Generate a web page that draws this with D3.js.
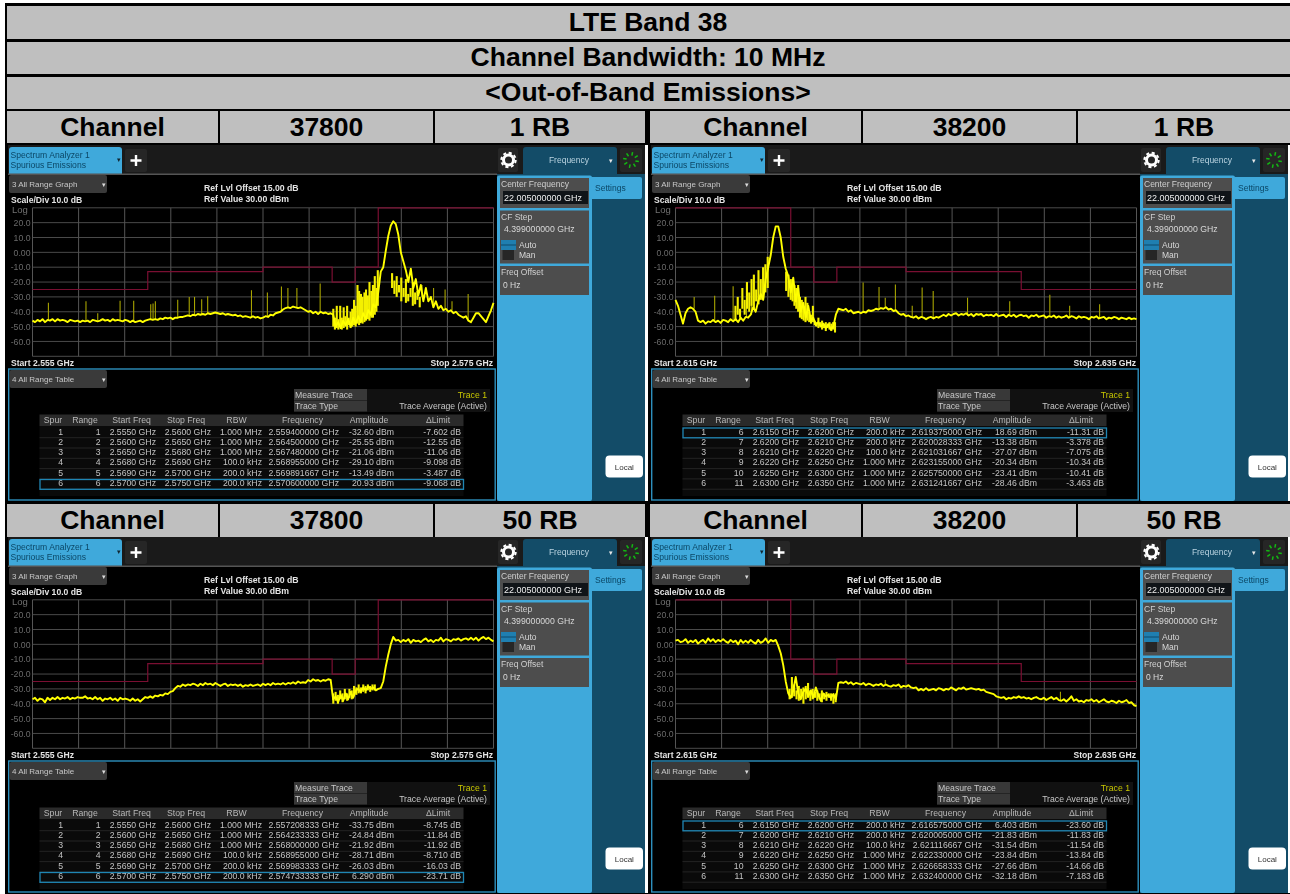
<!DOCTYPE html>
<html><head><meta charset="utf-8">
<script src="https://cdn.jsdelivr.net/npm/d3@7"></script>
<style>
html,body{margin:0;padding:0;background:#fff}
svg{display:block;font-family:"Liberation Sans",Arial,sans-serif}
.soft{filter:blur(.45px)}
</style></head><body><div id="c"></div>
<script>
const titles=["LTE Band 38","Channel Bandwidth: 10 MHz","<Out-of-Band Emissions>"];
const headerCells=[["Channel","37800","1 RB","Channel","38200","1 RB"],["Channel","37800","50 RB","Channel","38200","50 RB"]];
const yTickValues=[20,10,0,-10,-20,-30,-40,-50,-60];
const yTickLabels=["20.0","10.0","0.00","-10.0","-20.0","-30.0","-40.0","-50.0","-60.0"];
const tableHead=["Spur","Range","Start Freq","Stop Freq","RBW","Frequency","Amplitude","\u0394Limit"];

const limitLowFreq=[2555,2560,2565,2568,2569,2570,2575];
const limitLowVal=[-25,-13,-10,-20,-10,30];
const limitHighFreq=[2615,2620,2621,2622,2625,2630,2635];
const limitHighVal=[30,-10,-20,-10,-13,-25];

const traceA=[-46,-47,-45.5,-46.5,-45,-47,-45.5,-46,-45,-46.5,-45,-46,-45.5,-46,-47,-45.5,-46,-46.5,-46,-47,
-46,-46.5,-46,-47,-45.5,-46,-46.5,-46,-45,-46,-45.5,-46.5,-45,-46,-45.5,-46,-46.5,-45.5,-46,-47,
-46,-47,-46.5,-46,-47,-46,-45.5,-45,-45.5,-45,-45.5,-44.5,-45,-44,-44.5,-44,-45,-44,-44,-43.5,
-43.5,-43,-42.5,-43,-42,-42.5,-41.5,-42,-41.5,-42,-41,-41.5,-41,-40.5,-41,-41.5,-41,-42,-41.5,-42,
-42.5,-42,-43,-42.5,-43.5,-43,-43.5,-44,-43,-44,-43.5,-44.5,-44,-43,-43.5,-42,-42.5,-41,-40.5,-40,
-38.5,-37.5,-37,-37.5,-36.5,-37,-37.5,-37,-38,-39,-40,-39.5,-41,-40,-41.5,-40,-41,-40.5,-41.5,-41,
-42,-50,-47,-51,-46,-49,-45,-50,-44,-48,-43,-47,-41,-45,-39,-42,-35,-37,-27,-13,-10,1,11,18,20.9,19,12,0,-6,-12,
-20,-11,-24,-18,-29,-22,-33,-24,-33,-30,-37,-33,-38,-36,-39,-38,-40,-39,-41,-40,-42,-43,-44,-43,-46,-47,-44,-41,-41,-43,-45,-47,-43,-39,-34];
const traceB=[-32,-36,-42,-48,-41,-38,-37,-38,-40,-46,
-47,-46,-48,-46.5,-47,-45.5,-47,-46,-47.5,-45.5,-46,-47,-45,-46.5,-45,-47,-44,-46,-43.5,-44,
-42,-37,-40,-33,-28,-32,-18,-10,-2,10,17.5,17.5,10,-3,-11,-16,-27,-17,-33,-24,-40,-34,-44,-36,-46,-44,-49,-47,-50,-48,-51,-48.5,-52,-50,-42,-38,
-38.5,-39,-38,-40,-39,-41,-40.5,-40,-41,-40,-40.5,-39,-39.5,-39,-38,-38.5,-37.5,-38,-37,-38.5,
-38,-39.5,-39,-41,-42,-41.5,-43,-42.5,-43.5,-44,-43,-44.5,-43.5,-44,-45,-44,-43.5,-44.5,-43.5,-44,
-43,-42,-43,-41.5,-42.5,-41.5,-41,-42.5,-41.5,-42,-41,-42.5,-41.5,-43,-41.5,-42,-41.5,-43,-42,-42.5,
-42,-43,-41.5,-43,-42.5,-42,-43.5,-42,-43,-42,-43.5,-42.5,-42,-43,-42.5,-44,-42.5,-43,-42,-43.5,
-43,-42.5,-44,-43,-43.5,-42.5,-44,-43,-44,-43.5,-42.5,-44,-43,-43.5,-44.5,-43,-44,-43.5,-44,-45,
-43.5,-44,-43,-44.5,-44,-43.5,-45,-44,-44.5,-43.5,-44,-45,-44,-44.5,-45,-44,-45,-44.5,-45];
const traceC=[-37,-36,-38,-36.5,-37,-39,-36,-37.5,-36,-37,-35.5,-37,-36,-36.5,-35.5,-37,-36,-36.5,-35.5,-36,
-36,-35,-36.5,-36,-37,-35.5,-37,-36,-38,-36.5,-37,-36,-37.5,-36.5,-38,-36,-37,-36.5,-37,-38,
-36.5,-38,-37,-38.5,-37,-35.5,-36,-35,-36,-34.5,-35,-34,-34.5,-33,-33.5,-32,-31.5,-29.5,-28,-28.5,
-27,-28,-27,-27.5,-26.5,-27,-28,-26.5,-27.5,-26,-27,-26.5,-27.5,-26,-27,-28,-27,-26.5,-28,-27,
-27.5,-27,-28,-27,-28.5,-27.5,-28,-27,-28,-27.5,-27,-28,-26.5,-27.5,-26.5,-27.5,-26,-27,-26.5,-27,
-26,-27,-26,-26.5,-25.5,-26.5,-25,-26,-25.5,-26,-24,-25,-23.5,-24.5,-24,-25,-24,-24.5,-23.5,-24,
-37,-35,-39,-34,-38,-33,-37,-32,-36,-31,-30,-32,-29,-31,-28.5,-30,-29,-31,-30,-29.5,
-25,-15,-7,0,5,2.5,3,1.5,3,2,3.5,1,3,2,2.5,1.5,3,4,2,3,1.5,3,2.5,4.5,
2,3.5,3,2,3.5,3,4,2.5,3.5,4,3,4.5,3,4.5,2.5,4,5,3.5,4.5,3,2];
const traceD=[2.5,3,1.5,2,3.5,1,2.5,1.5,3,0.5,2,3,1,4,2,3.5,1.5,3,2,3.5,
2,1,3,1.5,2.5,0,3,1,2.5,1,3,1.5,0.5,3,1,2,4,1,3,2,3,
-1,-6,-14,-25,-33,-36,-31,-22,-33,-37,-32,-30,-35,-31,-36,-29,-34,-38,-33,-35,-34,-36,-33.5,-37,-26,
-25.5,-26,-25,-26.5,-25.5,-27,-26,-26.5,-27,-26,-27.5,-26.5,-27,-28,-27,-27.5,-26.5,-28,-27,-28,
-28.5,-27.5,-28,-27,-29,-28,-28.5,-27.5,-29,-29.5,-29,-31,-30,-31,-29.5,-31,-30.5,-30,-31,-29.5,
-30,-31,-30,-30.5,-29,-30,-31,-29.5,-30,-29,-30.5,-30,-29.5,-30,-30.5,-30,-31,-30.5,-32,-32.5,
-33,-33.5,-35,-35.5,-36,-35.5,-37,-36,-36.5,-35.5,-36,-35,-36,-35.5,-36.5,-36,-37,-36,-35.5,-36.5,
-37,-36,-37.5,-36.5,-35.5,-37,-36,-37.5,-38,-37,-38.5,-37,-35,-38,-37,-38.5,-38,-39,-37.5,-38,
-37,-38.5,-37.5,-39,-38,-37,-38.5,-39,-38,-38.5,-39.5,-38,-39,-38.5,-37.5,-39.5,-39,-41,-41.5];

const spikeAFreq=[2555.69,2557.32,2557.83,2558.8,2559.39,2560.13,2560.23,2560.33,2561.3,2561.8,2562.03,2562.34,2562.6,2564.5,2565.19,2565.8,2566.08,2566.47,2567.48,2571.9,2572.4,2572.9,2573.2,2573.9];
const spikeATop=[-33.9,-33,-41,-32.6,-32.6,-35,-34.5,-33,-32,-30,-30,-31.5,-29.5,-25.5,-27,-23,-24,-24,-21,-30,-24,-25,-33,-28];
const spikeBFreq=[2615.81,2616.7,2617.5,2618.08,2618.3,2623.14,2623.83,2624.1,2624.54,2625.27,2625.7,2626.18,2627.67,2629.5,2631.24,2632.1,2633.4];
const spikeBTop=[-30,-29.3,-22.8,-22,-20,-20.3,-23.4,-30.5,-21.6,-36,-23.7,-26,-30.5,-33,-28.5,-36,-35];
const spikeCFreq=[];
const spikeCTop=[];
const spikeDFreq=[2624.1,2631.7];
const spikeDTop=[-24,-32];

const burstAFreq=[2568.05,2568.12,2568.2,2568.27,2568.35,2568.42,2568.5,2568.57,2568.65,2568.72,2568.8,2568.87,2568.95,2569.02,2569.1,2569.17,2569.25,2569.32,2569.4,2569.47,2569.55,2569.62,2569.7,2569.77,2569.85,2569.92,2569.98,2570.6,2570.7,2570.8,2570.9,2571,2571.1,2571.2,2571.3,2571.4,2571.5,2571.6,2571.7,2571.8];
const burstALow=[-50,-52,-51,-52,-50,-52,-51,-50,-52,-49,-51,-50,-49,-50,-48,-49,-47,-48,-47,-46,-45,-46,-44,-44,-42,-40,-36,-24,-28,-30,-27,-33,-30,-34,-33,-30,-36,-35,-32,-37];
const burstAHigh=[-38,-44,-36,-45,-36,-44,-37,-43,-36,-44,-40,-38,-32,-36,-22,-26,-28,-30,-27,-25,-29,-20,-26,-22,-16,-24,-12,-14,-19,-16,-22,-17,-24,-18,-28,-24,-20,-27,-26,-30];
const burstBFreq=[2617.6,2617.7,2617.8,2617.9,2618,2618.1,2618.2,2618.3,2618.4,2618.5,2618.6,2618.7,2618.8,2618.9,2619,2619.8,2619.9,2620,2620.08,2620.16,2620.24,2620.32,2620.4,2620.48,2620.56,2620.64,2620.72,2620.8,2620.88,2620.96,2621.04,2621.12,2621.2,2621.28,2621.36,2621.44,2621.52,2621.6,2621.68,2621.76,2621.84,2621.92];
const burstBLow=[-46,-42,-44,-38,-42,-38,-40,-36,-38,-33,-35,-32,-31,-27,-24,-26,-30,-32,-33,-36,-38,-40,-44,-45,-46,-47,-46,-47,-48,-47,-49,-50,-51,-50,-52,-51,-53,-51,-52,-53,-52,-54];
const burstBHigh=[-36,-30,-38,-24,-32,-20,-27,-18,-15,-25,-12,-18,-10,-8,-3,-13,-15,-18,-18,-22,-24,-22,-30,-32,-36,-30,-34,-40,-42,-36,-46,-47,-44,-47,-46,-48,-47,-48,-47,-48,-47,-47];
const burstCFreq=[2568.05,2568.15,2568.25,2568.35,2568.45,2568.55,2568.65,2568.75,2568.85,2568.95,2569.05,2569.15,2569.25,2569.35,2569.45,2569.55,2569.65,2569.75,2569.85];
const burstCLow=[-40,-38,-40,-37,-39,-37,-38,-36,-37,-35,-34,-33,-33,-32,-33,-31,-32,-31,-31];
const burstCHigh=[-33,-32,-34,-31,-33,-30,-33,-30,-31,-28,-29,-27,-29,-27,-28,-27,-28,-27,-27];
const burstDFreq=[2619.95,2620.05,2620.15,2620.25,2620.35,2620.45,2620.55,2620.65,2620.75,2620.85,2620.95,2621.05,2621.15,2621.25,2621.35,2621.45,2621.55,2621.65,2621.75,2621.85,2621.95];
const burstDLow=[-37,-36,-35,-37,-38,-36,-40,-37,-36,-38,-37,-36,-38,-37,-39,-37,-38,-36,-38,-40,-39];
const burstDHigh=[-30,-22,-27,-31,-28,-30,-29,-28,-26,-31,-30,-32,-31,-33,-31,-33,-32,-33,-33,-34,-33];

const rowsA=[["1","1","2.5550 GHz","2.5600 GHz","1.000 MHz","2.559400000 GHz","-32.60 dBm","-7.602 dB"],
["2","2","2.5600 GHz","2.5650 GHz","1.000 MHz","2.564500000 GHz","-25.55 dBm","-12.55 dB"],
["3","3","2.5650 GHz","2.5680 GHz","1.000 MHz","2.567480000 GHz","-21.06 dBm","-11.06 dB"],
["4","4","2.5680 GHz","2.5690 GHz","100.0 kHz","2.568955000 GHz","-29.10 dBm","-9.098 dB"],
["5","5","2.5690 GHz","2.5700 GHz","200.0 kHz","2.569891667 GHz","-13.49 dBm","-3.487 dB"],
["6","6","2.5700 GHz","2.5750 GHz","200.0 kHz","2.570600000 GHz","20.93 dBm","-9.068 dB"]];
const rowsB=[["1","6","2.6150 GHz","2.6200 GHz","200.0 kHz","2.619375000 GHz","18.69 dBm","-11.31 dB"],
["2","7","2.6200 GHz","2.6210 GHz","200.0 kHz","2.620028333 GHz","-13.38 dBm","-3.378 dB"],
["3","8","2.6210 GHz","2.6220 GHz","100.0 kHz","2.621031667 GHz","-27.07 dBm","-7.075 dB"],
["4","9","2.6220 GHz","2.6250 GHz","1.000 MHz","2.623155000 GHz","-20.34 dBm","-10.34 dB"],
["5","10","2.6250 GHz","2.6300 GHz","1.000 MHz","2.625750000 GHz","-23.41 dBm","-10.41 dB"],
["6","11","2.6300 GHz","2.6350 GHz","1.000 MHz","2.631241667 GHz","-28.46 dBm","-3.463 dB"]];
const rowsC=[["1","1","2.5550 GHz","2.5600 GHz","1.000 MHz","2.557208333 GHz","-33.75 dBm","-8.745 dB"],
["2","2","2.5600 GHz","2.5650 GHz","1.000 MHz","2.564233333 GHz","-24.84 dBm","-11.84 dB"],
["3","3","2.5650 GHz","2.5680 GHz","1.000 MHz","2.568000000 GHz","-21.92 dBm","-11.92 dB"],
["4","4","2.5680 GHz","2.5690 GHz","100.0 kHz","2.568955000 GHz","-28.71 dBm","-8.710 dB"],
["5","5","2.5690 GHz","2.5700 GHz","200.0 kHz","2.569983333 GHz","-26.03 dBm","-16.03 dB"],
["6","6","2.5700 GHz","2.5750 GHz","200.0 kHz","2.574733333 GHz","6.290 dBm","-23.71 dB"]];
const rowsD=[["1","6","2.6150 GHz","2.6200 GHz","200.0 kHz","2.616575000 GHz","6.403 dBm","-23.60 dB"],
["2","7","2.6200 GHz","2.6210 GHz","200.0 kHz","2.620005000 GHz","-21.83 dBm","-11.83 dB"],
["3","8","2.6210 GHz","2.6220 GHz","100.0 kHz","2.621116667 GHz","-31.54 dBm","-11.54 dB"],
["4","9","2.6220 GHz","2.6250 GHz","1.000 MHz","2.622330000 GHz","-23.84 dBm","-13.84 dB"],
["5","10","2.6250 GHz","2.6300 GHz","1.000 MHz","2.626658333 GHz","-27.66 dBm","-14.66 dB"],
["6","11","2.6300 GHz","2.6350 GHz","1.000 MHz","2.632400000 GHz","-32.18 dBm","-7.183 dB"]];

const panels=[
 {ox:0,oy:0,dy:0,start:2555,stop:2575,startL:"Start 2.555 GHz",stopL:"Stop 2.575 GHz",trace:traceA,sF:spikeAFreq,sT:spikeATop,bF:burstAFreq,bL:burstALow,bH:burstAHigh,rows:rowsA,hi:5,lf:limitLowFreq,lv:limitLowVal},
 {ox:643,oy:0,dy:0,start:2615,stop:2635,startL:"Start 2.615 GHz",stopL:"Stop 2.635 GHz",trace:traceB,sF:spikeBFreq,sT:spikeBTop,bF:burstBFreq,bL:burstBLow,bH:burstBHigh,rows:rowsB,hi:0,lf:limitHighFreq,lv:limitHighVal},
 {ox:0,oy:392,dy:1,start:2555,stop:2575,startL:"Start 2.555 GHz",stopL:"Stop 2.575 GHz",trace:traceC,sF:spikeCFreq,sT:spikeCTop,bF:burstCFreq,bL:burstCLow,bH:burstCHigh,rows:rowsC,hi:5,lf:limitLowFreq,lv:limitLowVal},
 {ox:643,oy:392,dy:1,start:2615,stop:2635,startL:"Start 2.615 GHz",stopL:"Stop 2.635 GHz",trace:traceD,sF:spikeDFreq,sT:spikeDTop,bF:burstDFreq,bL:burstDLow,bH:burstDHigh,rows:rowsD,hi:0,lf:limitHighFreq,lv:limitHighVal}
];

const W=1290,H=894;
const svg=d3.select("#c").append("svg").attr("width",W).attr("height",H);
svg.append("rect").attr("width",W).attr("height",H).attr("fill","#fff");
svg.append("rect").attr("x",5).attr("y",3).attr("width",W-5).attr("height",H-3).attr("fill","#000");
const G="#bfbfbf";
const titleY=[[6,33],[42,32],[77,32]];
titles.forEach((t,i)=>{
  svg.append("rect").attr("x",7).attr("y",titleY[i][0]).attr("width",1283).attr("height",titleY[i][1]).attr("fill",G);
  svg.append("text").attr("x",648).attr("y",titleY[i][0]+titleY[i][1]/2+8).attr("text-anchor","middle")
    .attr("font-size",26.5).attr("font-weight",700).attr("fill","#000").text(t);
});
const cellX=[[7,211],[220,213],[435,210],[650,211],[863,213],[1078,212]];
[[111,32],[504,33]].forEach((r,ri)=>{
  cellX.forEach((c,i)=>{
    svg.append("rect").attr("x",c[0]).attr("y",r[0]).attr("width",c[1]).attr("height",r[1]).attr("fill",G);
    svg.append("text").attr("x",c[0]+c[1]/2).attr("y",r[0]+r[1]/2+8.5).attr("text-anchor","middle")
      .attr("font-size",26.5).attr("font-weight",700).attr("fill","#000").text(headerCells[ri][i]);
  });
});

const fmt=(s,x,y,t,o={})=>s.append("text").attr("x",x).attr("y",y).text(t)
  .attr("font-size",o.size||8.7).attr("fill",o.fill||"#c8c8c8").attr("font-weight",o.weight||400)
  .attr("text-anchor",o.anchor||"start");
const y=d3.scaleLinear().domain([30,-70]).range([207.8,356.3]);

panels.forEach(p=>{
  const g=svg.append("g").attr("class","soft").attr("transform",`translate(${p.ox},${p.oy})`);
  const R=(x,yy,w,h,f,rx)=>g.append("rect").attr("x",x).attr("y",yy).attr("width",w).attr("height",h).attr("fill",f).attr("rx",rx||0);
  R(8,145,640,356,"#fff");
  R(8,145,637,356,"#000");
  R(8,145,637,29,"#1a1a1a");
  g.append("path").attr("d","M9 174V150q0-3 3-3h107q3 0 3 3v24z").attr("fill","#3fa9db");
  fmt(g,10.5,158,"Spectrum Analyzer 1",{size:8.6,fill:"#0b4766"});
  fmt(g,10.5,168,"Spurious Emissions",{size:8.6,fill:"#0b4766"});
  fmt(g,116.5,162,"\u25BE",{size:7,fill:"#10242e"});
  R(125,149,22,23,"#262626",2);
  g.append("path").attr("d","M136 155v11M130.5 160.5h11").attr("stroke","#fff").attr("stroke-width",2.4);
  R(8,173.5,489,1.5,"#555");
  R(9,175,98,18,"#3a3a3a",2);
  fmt(g,12,187,"3 All Range Graph",{size:8});
  fmt(g,102,187,"\u25BE",{size:7,fill:"#ddd"});
  fmt(g,204,191,"Ref Lvl Offset 15.00 dB",{fill:"#e4e4e4",weight:700});
  fmt(g,204,202,"Ref Value 30.00 dBm",{fill:"#e4e4e4",weight:700});
  fmt(g,11,203,"Scale/Div 10.0 dB",{size:8.6,fill:"#e4e4e4",weight:700});
  fmt(g,12,213,"Log",{size:9.5,fill:"#707070"});

  const x=d3.scaleLinear().domain([p.start,p.stop]).range([32.5,493.5]);
  const freqs=d3.range(p.trace.length).map(i=>p.start+i*(p.stop-p.start)/(p.trace.length-1));
  const vt=d3.range(p.start,p.stop+.01,2);
  g.append("g").selectAll("line").data(vt).join("line").attr("x1",d=>x(d)).attr("x2",d=>x(d))
    .attr("y1",y(30)).attr("y2",y(-70)).attr("stroke","#5f5f5f").attr("stroke-width",.9);
  g.append("g").selectAll("line").data(d3.range(30,-71,-10)).join("line").attr("x1",x(p.start)).attr("x2",x(p.stop))
    .attr("y1",d=>y(d)).attr("y2",d=>y(d)).attr("stroke","#525252").attr("stroke-width",.9);
  const ax=g.append("g").attr("transform","translate(30.5,0)")
    .call(d3.axisLeft(y).tickValues(yTickValues).tickSize(0).tickPadding(0).tickFormat((d,i)=>yTickLabels[i]));
  ax.select(".domain").remove();
  ax.selectAll("text").attr("font-size",8.7).attr("fill","#6a6a6a").attr("font-family","Liberation Sans");

  const lim=[];
  p.lv.forEach((v,i)=>{lim.push([p.lf[i],v]);lim.push([p.lf[i+1],v]);});
  g.append("path").datum(lim).attr("fill","none").attr("stroke","#7a0f32").attr("stroke-width",1.2)
    .attr("d",d3.line().x(d=>x(d[0])).y(d=>y(d[1])));

  const at=f=>p.trace[Math.max(0,Math.min(p.trace.length-1,Math.round((f-p.start)/(p.stop-p.start)*(p.trace.length-1))))];
  g.append("g").selectAll("line").data(p.sF).join("line").attr("x1",d=>x(d)).attr("x2",d=>x(d))
    .attr("y1",(d,i)=>y(p.sT[i])).attr("y2",d=>y(at(d))).attr("stroke","#a8a400").attr("stroke-width",1.1);
  g.append("g").selectAll("line").data(p.bF).join("line").attr("x1",d=>x(d)).attr("x2",d=>x(d))
    .attr("y1",(d,i)=>y(p.bH[i])).attr("y2",(d,i)=>y(p.bL[i])).attr("stroke","#f4f000").attr("stroke-width",2.1);
  g.append("path").datum(p.trace).attr("fill","none").attr("stroke","#ffff00").attr("stroke-width",1.9).attr("stroke-linejoin","round")
    .attr("d",d3.line().x((d,i)=>x(freqs[i])).y(d=>y(d)));

  fmt(g,11,365.5,p.startL,{size:8.6,fill:"#e4e4e4",weight:700});
  fmt(g,493,365.5,p.stopL,{size:8.6,fill:"#e4e4e4",weight:700,anchor:"end"});

  g.append("rect").attr("x",8.7).attr("y",369).attr("width",486.5).attr("height",131).attr("fill","none").attr("stroke","#2d8fbd").attr("stroke-width",1.4);
  R(9.5,370,97.5,18,"#3a3a3a",2);
  fmt(g,12,382,"4 All Range Table",{size:8});
  fmt(g,102,382,"\u25BE",{size:7,fill:"#ddd"});
  const d=p.dy;
  R(294,389+d,196,23,"#111");
  R(294,389+d,73,11,"#383838"); R(294,400.5+d,73,11,"#383838");
  fmt(g,295,398+d,"Measure Trace");
  fmt(g,295,409+d,"Trace Type");
  fmt(g,487,398+d,"Trace 1",{fill:"#c9c800",anchor:"end"});
  fmt(g,487,409+d,"Trace Average (Active)",{anchor:"end"});

  R(39.5,414.5+d,424,11.5,"#2a2a2a");
  R(39.5,426+d,424,70,"#0a0a0a");
  const heads=[53,85,131.5,186,236.5,302.5,369,438];
  tableHead.forEach((t,i)=>fmt(g,heads[i],423+d,t,{anchor:"middle",fill:"#b8b8b8"}));
  const cols=[[63,"end"],[100.5,"end"],[156,"end"],[211,"end"],[262,"end"],[339,"end"],[394,"end"],[461,"end"]];
  const rowY=d3.scaleLinear().domain([0,5]).range([434.5+d,486+d]);
  p.rows.forEach((r,ri)=>{
    g.append("line").attr("x1",39.5).attr("x2",463.5).attr("y1",rowY(ri)+3.2).attr("y2",rowY(ri)+3.2).attr("stroke","#2b2b2b").attr("stroke-width",.8);
    r.forEach((v,ci)=>fmt(g,cols[ci][0],rowY(ri),v,{anchor:cols[ci][1],fill:"#c4c4c4"}));
  });
  g.append("rect").attr("x",40).attr("y",rowY(p.hi)-6.5).attr("width",423.5).attr("height",9.8).attr("fill","none").attr("stroke","#1f86b4").attr("stroke-width",1.3);

  R(497,174,148,327,"#134c68");
  g.append("path").attr("d","M523 174V150q0-3 3-3h88q3 0 3 3v24z").attr("fill","#134c68");
  R(497,175.5,95,325.5,"#3fa9db",2);
  R(590,177,52,22,"#3fa9db",2);
  fmt(g,595,191,"Settings",{size:8.5,fill:"#0b4766"});
  fmt(g,569,163,"Frequency",{size:8.5,anchor:"middle",fill:"#b9d3e0"});
  fmt(g,608.5,163,"\u25BE",{size:7,fill:"#e8e8e8"});
  R(498,148,20,24,"#262626",2);
  g.append("circle").attr("cx",508.5).attr("cy",160).attr("r",5).attr("fill","none").attr("stroke","#fff").attr("stroke-width",3);
  g.append("circle").attr("cx",508.5).attr("cy",160).attr("r",7.2).attr("fill","none").attr("stroke","#fff").attr("stroke-width",2).attr("stroke-dasharray","3.1 2.55");
  R(620,148,22,24,"#262626",2);
  d3.range(8).forEach(i=>{
    const a=i*Math.PI/4+.2;
    g.append("line").attr("x1",631+Math.cos(a)*4.5).attr("y1",160+Math.sin(a)*4.5).attr("x2",631+Math.cos(a)*8).attr("y2",160+Math.sin(a)*8)
      .attr("stroke","#12b812").attr("stroke-width",1.5);
  });
  R(500,178,89,30,"#4d4d4d");
  fmt(g,501,187,"Center Frequency",{size:8.5,fill:"#d0d0d0"});
  R(503,191,85,13,"#101418");
  fmt(g,504,200.5,"22.005000000 GHz",{size:9,fill:"#eee"});
  R(500,210.5,89,53,"#4d4d4d");
  fmt(g,501,220,"CF Step",{size:8.5,fill:"#d0d0d0"});
  fmt(g,504,232,"4.399000000 GHz",{size:8.7,fill:"#d8d8d8"});
  R(501,240,15,10,"#1f7fb0");
  R(501,244.5,15,1,"#0e4a6a");
  R(502.5,250,11.5,10,"#262626");
  fmt(g,519,248,"Auto",{size:8.5,fill:"#d8d8d8"});
  fmt(g,519,258,"Man",{size:8.5,fill:"#d8d8d8"});
  R(500,266,89,29,"#4d4d4d");
  fmt(g,501,275,"Freq Offset",{size:8.5,fill:"#d0d0d0"});
  fmt(g,503,288,"0 Hz",{size:8.5,fill:"#d8d8d8"});
  R(605.5,455.5,37.5,22,"#fff",4);
  fmt(g,624.3,469.5,"Local",{size:8,fill:"#333",anchor:"middle"});
});
</script></body></html>
